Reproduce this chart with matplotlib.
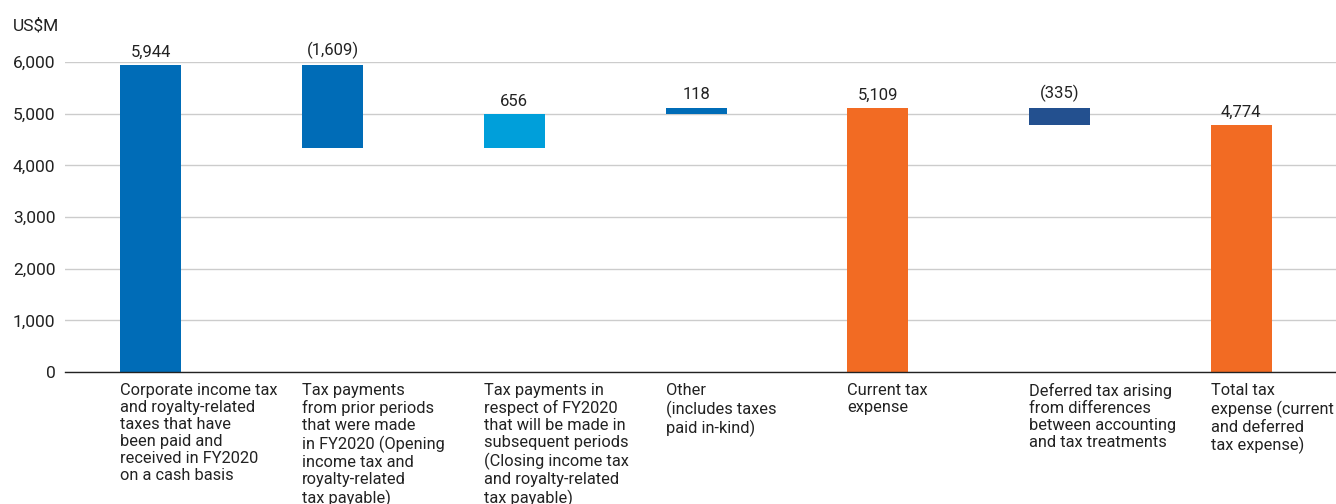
import matplotlib
matplotlib.use('Agg')
import matplotlib.pyplot as plt

# datos del gráfico (cascada de impuestos, US$M)
categorias = [
    "Corporate income tax\nand royalty-related\ntaxes that have\nbeen paid and\nreceived in FY2020\non a cash basis",
    "Tax payments\nfrom prior periods\nthat were made\nin FY2020 (Opening\nincome tax and\nroyalty-related\ntax payable)",
    "Tax payments in\nrespect of FY2020\nthat will be made in\nsubsequent periods\n(Closing income tax\nand royalty-related\ntax payable)",
    "Other\n(includes taxes\npaid in-kind)",
    "Current tax\nexpense",
    "Deferred tax arising\nfrom differences\nbetween accounting\nand tax treatments",
    "Total tax\nexpense (current\nand deferred\ntax expense)",
]
valores = [5944, -1609, 656, 118, 5109, -335, 4774]
etiquetas = ["5,944", "(1,609)", "656", "118", "5,109", "(335)", "4,774"]
es_total = [True, False, False, False, True, False, True]
colores = ["#006cb7", "#006cb7", "#009fda", "#006cb7", "#f26b23", "#23508f", "#f26b23"]
ticks_y = [0, 1000, 2000, 3000, 4000, 5000, 6000]

plt.rcParams['font.family'] = ['Roboto', 'DejaVu Sans']

fig = plt.figure(figsize=(13.36, 5.04), dpi=100)
ax = fig.add_axes([65 / 1336, 132 / 504, 1 - 65 / 1336, 310 / 504])

# calcular bases de la cascada
bases = []
alturas = []
acumulado = 0
for v, total in zip(valores, es_total):
    if total:
        bases.append(0)
        alturas.append(v)
        acumulado = v
    else:
        if v >= 0:
            bases.append(acumulado)
        else:
            bases.append(acumulado + v)
        alturas.append(abs(v))
        acumulado += v

ancho = 0.336
xs = list(range(len(valores)))
ax.bar(xs, alturas, bottom=bases, width=ancho, color=colores, zorder=3)

for x, b, h, t in zip(xs, bases, alturas, etiquetas):
    ax.annotate(t, (x, b + h), xytext=(0, 4), textcoords='offset points',
                ha='center', va='bottom', fontsize=12, color='#222222',
                annotation_clip=False)

for x, c in zip(xs, categorias):
    ax.text(x - ancho / 2, -0.036, c, transform=ax.get_xaxis_transform(),
            ha='left', va='top', fontsize=11.8, linespacing=1.17,
            color='#222222')

ax.set_xlim(-0.473, 6.522)
ax.set_ylim(0, 6000)
ax.set_yticks(ticks_y)
ax.set_yticklabels([f"{t:,}" for t in ticks_y], fontsize=12.5, color='#222222')
ax.tick_params(axis='y', length=0, pad=7)
ax.set_xticks([])
ax.grid(axis='y', color='#cccccc', linewidth=1, zorder=0)
for s in ['top', 'right', 'left']:
    ax.spines[s].set_visible(False)
ax.spines['bottom'].set_color('#222222')
ax.spines['bottom'].set_linewidth(1)
ax.spines['bottom'].set_zorder(4)

fig.text(13 / 1336, 1 - 26 / 504, "US$M", ha='left', va='center', fontsize=12.5, color='#222222')

fig.savefig('out.png', dpi=100)
